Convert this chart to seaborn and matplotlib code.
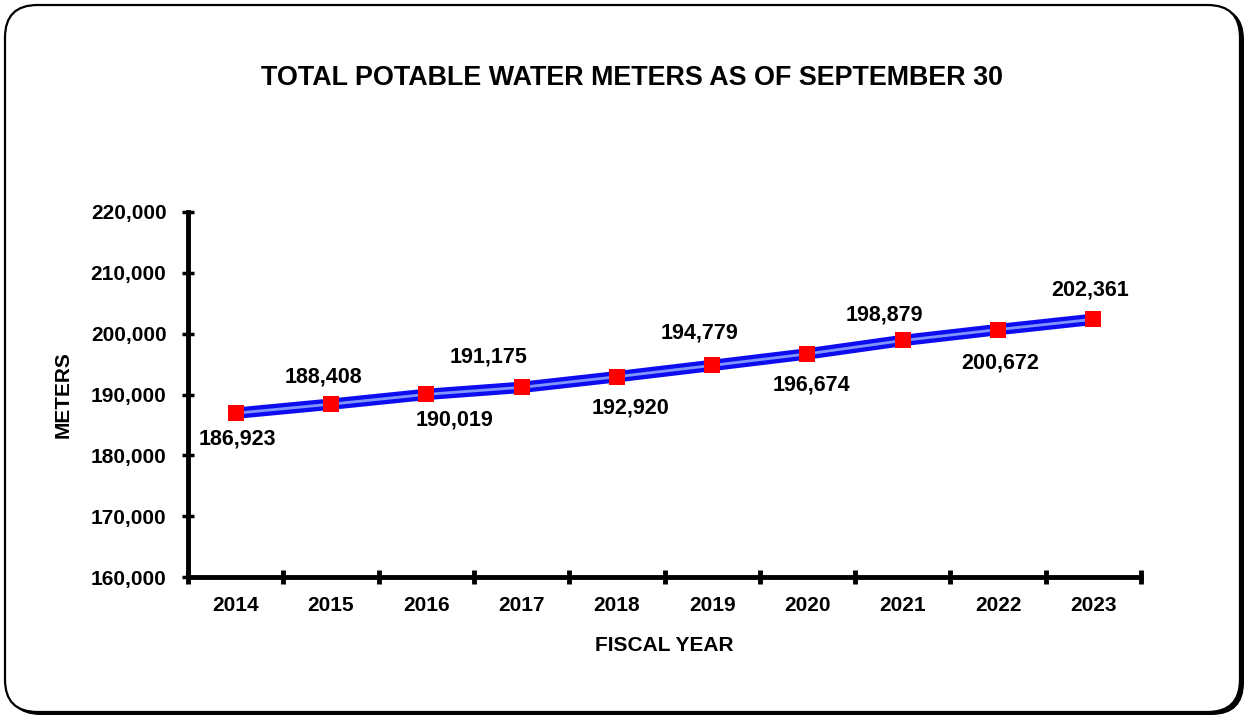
import matplotlib
matplotlib.use("Agg")
import matplotlib.pyplot as plt
from matplotlib.patches import FancyBboxPatch
import seaborn as sns
import pandas as pd

# data
years = [2014, 2015, 2016, 2017, 2018, 2019, 2020, 2021, 2022, 2023]
meters = [186923, 188408, 190019, 191175, 192920, 194779, 196674, 198879, 200672, 202361]

# label offsets from each point, in pixels (dx, dy; +dy is up)
label_dx = [2, -8, 28, -33, 14, -13, 4, -18, 2, -3]
label_dy = [-26, 27, -26, 30, -31, 32, -31, 25, -33, 29]

df = pd.DataFrame({"year": years, "meters": meters})

sns.set_style("white")
plt.rcParams["font.family"] = ["Liberation Sans", "DejaVu Sans"]
plt.rcParams["font.weight"] = "bold"
plt.rcParams["text.color"] = "black"
plt.rcParams["axes.labelcolor"] = "black"
plt.rcParams["xtick.color"] = "black"
plt.rcParams["ytick.color"] = "black"

fig = plt.figure(figsize=(12.49, 7.19), dpi=100)

# rounded frame with a dark shadow at bottom-right
W, H = 1249, 719
shadow = FancyBboxPatch((8 / W, 4 / H), 1236 / W, 708 / H,
                        boxstyle="round,pad=0,rounding_size=0.026",
                        transform=fig.transFigure, facecolor="black",
                        edgecolor="black", lw=0, zorder=0, mutation_aspect=W / H)
frame = FancyBboxPatch((5 / W, 7 / H), 1235 / W, 707 / H,
                       boxstyle="round,pad=0,rounding_size=0.026",
                       transform=fig.transFigure, facecolor="white",
                       edgecolor="black", lw=1.6, zorder=0.5, mutation_aspect=W / H)
fig.patches.extend([shadow, frame])

ax = fig.add_axes([188 / W, 1 - 577 / H, 953 / W, 365 / H])
ax.set_zorder(2)
ax.set_facecolor("none")

# thick blue line with a lighter core stripe
sns.lineplot(data=df, x="year", y="meters", ax=ax, color="#0d0df0", lw=8.2,
             solid_capstyle="butt", zorder=3)
sns.lineplot(data=df, x="year", y="meters", ax=ax, color="#7f95ff", lw=2,
             solid_capstyle="butt", zorder=4)
sns.scatterplot(data=df, x="year", y="meters", ax=ax, marker="s", s=125,
                color="#ff0000", edgecolor="#ff0000", linewidth=0, zorder=5)

for x, y, dx, dy in zip(years, meters, label_dx, label_dy):
    ax.annotate(f"{y:,}", (x, y), xytext=(dx, dy), textcoords="offset pixels",
                ha="center", va="center", fontsize=15.5, fontweight="bold")

ax.set_xlim(2013.5, 2023.5)
ax.set_ylim(160000, 220000)
ax.set_yticks(range(160000, 220001, 10000))
ax.set_yticklabels([f"{v:,}" for v in range(160000, 220001, 10000)])
ax.set_xticks(years)
ax.set_xticklabels([str(y) for y in years])
ax.set_xticks([y + 0.5 for y in [2013] + years], minor=True)

ax.tick_params(axis="x", which="major", bottom=True, length=0, pad=14, labelsize=15)
ax.tick_params(axis="x", which="minor", bottom=True, direction="inout", length=10, width=3.5)
ax.tick_params(axis="y", left=True, direction="inout", length=9, width=2.5, pad=11,
               labelsize=15)
for lab in ax.get_xticklabels() + ax.get_yticklabels():
    lab.set_fontweight("bold")

for side in ["top", "right"]:
    ax.spines[side].set_visible(False)
for side in ["left", "bottom"]:
    ax.spines[side].set_linewidth(3.5)
    ax.spines[side].set_color("black")

ax.set_xlabel("FISCAL YEAR", fontsize=15, fontweight="bold", labelpad=15)
ax.set_ylabel("METERS", fontsize=15, fontweight="bold", labelpad=13)

fig.text(632 / W, 1 - 78 / H, "TOTAL POTABLE WATER METERS AS OF SEPTEMBER 30",
         ha="center", va="center", fontsize=19.4, fontweight="bold")

fig.savefig("out.png", dpi=100)
